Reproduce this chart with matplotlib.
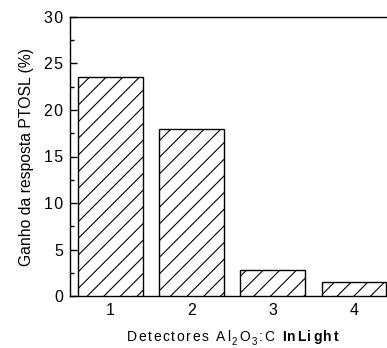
import matplotlib
matplotlib.use("Agg")
import matplotlib.pyplot as plt
from matplotlib.ticker import MultipleLocator, FuncFormatter
from matplotlib.offsetbox import TextArea, HPacker, AnchoredOffsetbox, DrawingArea
from matplotlib.text import Text

plt.rcParams['font.family'] = ['Liberation Sans', 'DejaVu Sans']
plt.rcParams['hatch.linewidth'] = 0.8

detectors = [1, 2, 3, 4]
gain = [23.5, 18.0, 2.8, 1.55]
xtick_labels = ['1', '2', '3', '4']

fig = plt.figure(figsize=(3.87, 3.48), dpi=100)
ax = fig.add_axes([70/387, 1-296/348, (394.6-70)/387, (296-17)/348])

ax.bar(detectors, gain, width=0.8, color='white', edgecolor='black',
       hatch='//', linewidth=1.0, zorder=3)

ax.set_xlim(0.5, 4.5)
ax.set_ylim(0, 30)
ax.set_xticks(detectors)
ax.set_xticklabels(xtick_labels)
ax.yaxis.set_major_locator(MultipleLocator(5))
ax.yaxis.set_minor_locator(MultipleLocator(2.5))
ax.yaxis.set_major_formatter(FuncFormatter(lambda v, p: '\u200a'.join(str(int(v)))))
ax.tick_params(axis='both', which='major', direction='in', length=5, width=1,
               labelsize=11.5)
ax.tick_params(axis='x', pad=5)
ax.tick_params(axis='y', pad=5)
ax.tick_params(axis='y', which='minor', direction='in', length=3, width=1)
for s in ax.spines.values():
    s.set_linewidth(1.0)

ax.set_ylabel('Ganho da resposta PTOSL (%)', fontsize=11.3, labelpad=7)

# x label with letter spacing
fs = 10
def ch_area(ch, bold=False):
    return TextArea(ch, textprops=dict(fontsize=fs,
                                       fontweight='bold' if bold else 'normal'))

def sub_area(ch):
    da = DrawingArea(4.2, 6, xdescent=0, ydescent=4.0)
    da.add_artist(Text(0, -3.0, ch, fontsize=7, va='baseline', ha='left',
                       family=['Liberation Sans', 'DejaVu Sans']))
    return da

parts = [ch_area(c) for c in 'Detectores']
parts.append(ch_area(' '))
parts += [ch_area(c) for c in 'Al']
parts.append(sub_area('2'))
parts.append(ch_area('O'))
parts.append(sub_area('3'))
parts += [ch_area(c) for c in ':C']
parts.append(ch_area(' '))
parts += [ch_area(c, bold=True) for c in 'InLight']
pack = HPacker(children=parts, sep=1.2, pad=0, align='baseline')
ab = AnchoredOffsetbox(loc='center', child=pack, frameon=False, pad=0,
                       bbox_to_anchor=(0.5, -0.15), bbox_transform=ax.transAxes,
                       borderpad=0)
ax.add_artist(ab)

fig.savefig('out.png', dpi=100)
